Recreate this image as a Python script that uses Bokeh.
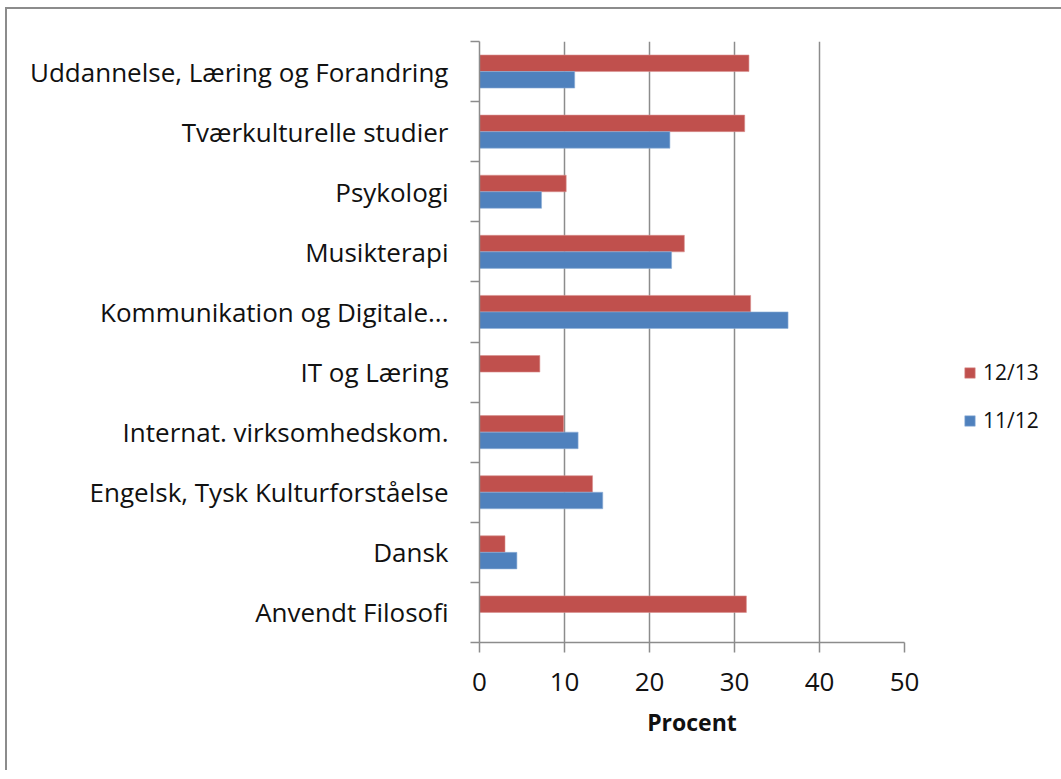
from bokeh.plotting import figure
from bokeh.models import (ColumnDataSource, FactorRange, Range1d, LinearAxis, CategoricalAxis,
                          FixedTicker, Legend, LegendItem)
from bokeh.transform import dodge
from bokeh.embed import file_html
from bokeh.resources import INLINE

# Categories listed top to bottom as in the chart
categories = ["Uddannelse, Læring og Forandring", "Tværkulturelle studier", "Psykologi",
              "Musikterapi", "Kommunikation og Digitale...", "IT og Læring",
              "Internat. virksomhedskom.", "Engelsk, Tysk Kulturforståelse", "Dansk",
              "Anvendt Filosofi"]
values_1213 = [31.7, 31.2, 10.2, 24.1, 31.9, 7.1, 9.9, 13.3, 3.0, 31.4]
values_1112 = [11.2, 22.4, 7.3, 22.6, 36.3, 0.0, 11.6, 14.5, 4.4, 0.0]
series_names = ["12/13", "11/12"]
x_ticks = [0, 10, 20, 30, 40, 50]

RED = "#C0504D"
BLUE = "#4F81BD"
GRID = "#8c8c8c"
FONT = "Open Sans"

src = ColumnDataSource(dict(cat=categories, v1213=values_1213, v1112=values_1112))

p = figure(frame_width=425, frame_height=601, output_backend="svg", toolbar_location=None,
           y_range=FactorRange(factors=list(reversed(categories))),
           x_range=Range1d(0, 50), y_axis_location=None, x_axis_location=None,
           min_border_left=472, min_border_right=154, min_border_top=32, min_border_bottom=128,
           styles={"border-top": "2px solid #8c8c8c", "border-left": "2px solid #8c8c8c",
                   "margin-left": "5px", "margin-top": "7px"})
p.outline_line_color = None
p.background_fill_color = "white"

r_red = p.hbar(y=dodge("cat", 0.1375, range=p.y_range), right="v1213", left=0, height=0.275,
               source=src, fill_color=RED, line_color="#d9908e", line_width=0.6)
r_blue = p.hbar(y=dodge("cat", -0.1375, range=p.y_range), right="v1112", left=0, height=0.275,
                source=src, fill_color=BLUE, line_color="#8fb0d9", line_width=0.6)

# boundary tick axis (ticks between categories, in the factor range's synthetic coordinates)
bounds = list(range(len(categories) + 1))
tick_axis = LinearAxis(ticker=FixedTicker(ticks=bounds),
                       major_label_overrides={b: "" for b in bounds},
                       major_label_text_font_size="1px", major_label_standoff=0,
                       major_tick_out=9, major_tick_in=0, minor_tick_line_color=None,
                       axis_line_color=GRID, axis_line_width=1.5,
                       major_tick_line_color=GRID, major_tick_line_width=1.5)
p.add_layout(tick_axis, "left")

cat_axis = CategoricalAxis(axis_line_color=None, major_tick_line_color=None,
                           major_tick_out=0, major_tick_in=0, minor_tick_line_color=None,
                           major_label_standoff=22, major_label_text_font=FONT,
                           major_label_text_font_size="26px", major_label_text_color="#111111")
p.add_layout(cat_axis, "left")

xaxis = LinearAxis(ticker=FixedTicker(ticks=x_ticks), major_tick_out=10, major_tick_in=0,
                   minor_tick_line_color=None, axis_line_color=GRID, axis_line_width=1.5,
                   major_tick_line_color=GRID, major_tick_line_width=1.5,
                   major_label_text_font=FONT, major_label_text_font_size="26px",
                   major_label_text_color="#111111", major_label_standoff=20,
                   axis_label="Procent", axis_label_text_font=FONT,
                   axis_label_text_font_size="23px", axis_label_text_font_style="bold",
                   axis_label_text_color="#111111", axis_label_standoff=12)
p.add_layout(xaxis, "below")

p.xgrid.ticker = FixedTicker(ticks=x_ticks)
p.xgrid.grid_line_color = GRID
p.xgrid.grid_line_width = 1.5
p.ygrid.grid_line_color = None

legend = Legend(items=[LegendItem(label=series_names[0], renderers=[r_red]),
                       LegendItem(label=series_names[1], renderers=[r_blue])],
                location=(59, 208), glyph_width=13, glyph_height=13, label_standoff=7,
                label_text_font=FONT, label_text_font_size="21px", label_text_color="#111111",
                spacing=20, padding=0, margin=0, border_line_color=None,
                background_fill_alpha=0)
p.add_layout(legend, "right")

open("out.html", "w").write(file_html(p, INLINE))
